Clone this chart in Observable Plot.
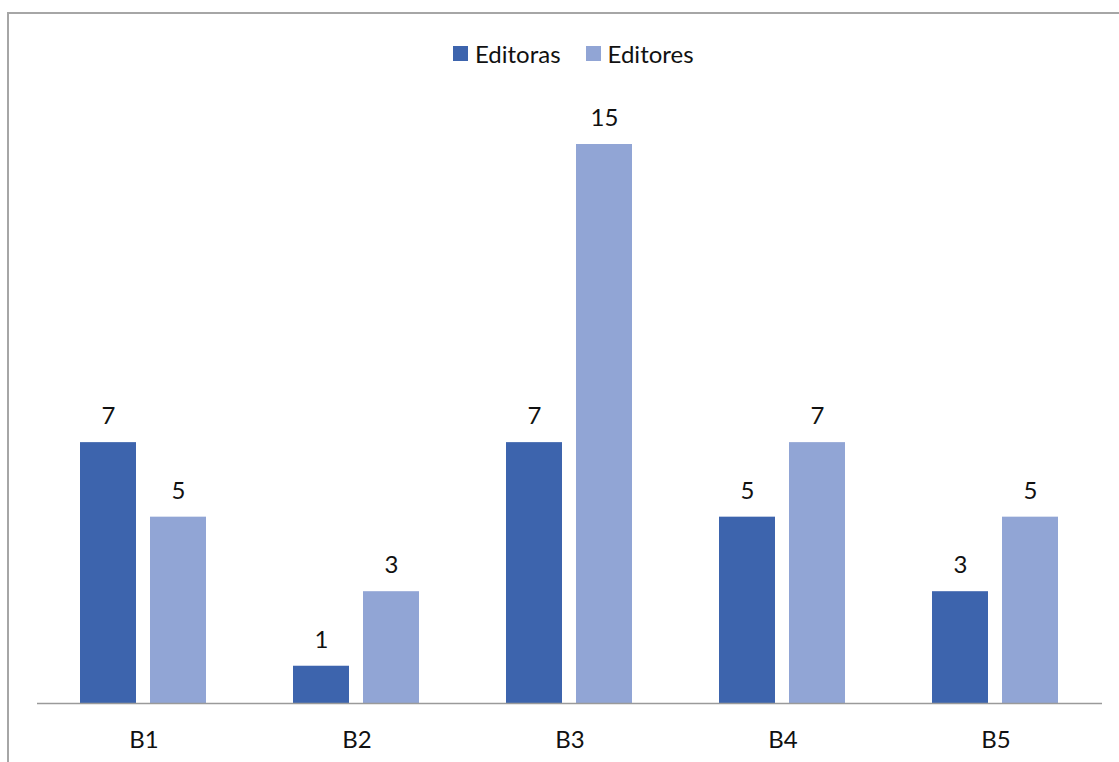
<!DOCTYPE html>
<html>
<head>
<meta charset="utf-8">
<script src="https://cdn.jsdelivr.net/npm/d3@7"></script>
<script src="https://cdn.jsdelivr.net/npm/@observablehq/plot@0.6"></script>
<style>
  html, body { margin: 0; padding: 0; background: #fff; }
  body { width: 1119px; height: 762px; position: relative; overflow: hidden; font-family: Lato, "Open Sans", sans-serif; }
  #frame { position: absolute; left: 7px; top: 12px; right: -10px; bottom: -10px; border-left: 2px solid #a6a6a6; border-top: 2px solid #a6a6a6; }
  #legend { position: absolute; left: 453px; top: 39px; height: 28px; display: flex; align-items: center; font-size: 24px; color: #111; }
  .item { display: flex; align-items: center; }
  .item + .item { margin-left: 25px; }
  .swatch { width: 15px; height: 15px; margin-right: 7px; }
  #chart { position: absolute; left: 0; top: 80px; }
</style>
</head>
<body>
<div id="frame"></div>
<div id="legend"></div>
<div id="chart"></div>
<script>
// Categories and the two series drawn side by side in each group
const categories = ["B1", "B2", "B3", "B4", "B5"];
const seriesNames = ["Editoras", "Editores"];
const editoras = [7, 1, 7, 5, 3];
const editores = [5, 3, 15, 7, 5];
const seriesColors = ["#3d64ad", "#91a5d5"];

const rows = [];
categories.forEach((cat, i) => {
  rows.push({cat, series: seriesNames[0], value: editoras[i]});
  rows.push({cat, series: seriesNames[1], value: editores[i]});
});

// Legend above the chart
const legend = document.getElementById("legend");
seriesNames.forEach((name, i) => {
  const item = document.createElement("div");
  item.className = "item";
  const sw = document.createElement("span");
  sw.className = "swatch";
  sw.style.background = seriesColors[i];
  const label = document.createElement("span");
  label.textContent = name;
  item.append(sw, label);
  legend.append(item);
});

const chart = Plot.plot({
  width: 1119,
  height: 682,
  marginLeft: 37,
  marginRight: 17,
  marginTop: 64,
  marginBottom: 59,
  style: {fontFamily: "Lato, 'Open Sans', sans-serif", fontSize: "24px", color: "#111", background: "transparent"},
  fx: {domain: categories, padding: 0, label: null},
  x: {domain: seriesNames, paddingInner: 0.197, paddingOuter: 0.6, axis: null},
  y: {domain: [0, 15], axis: null},
  color: {domain: seriesNames, range: seriesColors},
  marks: [
    Plot.barY(rows, {fx: "cat", x: "series", y: "value", fill: "series"}),
    Plot.text(rows, {fx: "cat", x: "series", y: "value", text: d => String(d.value), dy: -26, fontSize: 24, fill: "#111"}),
    Plot.ruleY([0], {stroke: "#9a9a9a", strokeWidth: 1.5}),
    Plot.axisFx({anchor: "bottom", tickSize: 0, tickPadding: 27, fontSize: 24, label: null})
  ]
});
document.getElementById("chart").append(chart);
</script>
</body>
</html>
